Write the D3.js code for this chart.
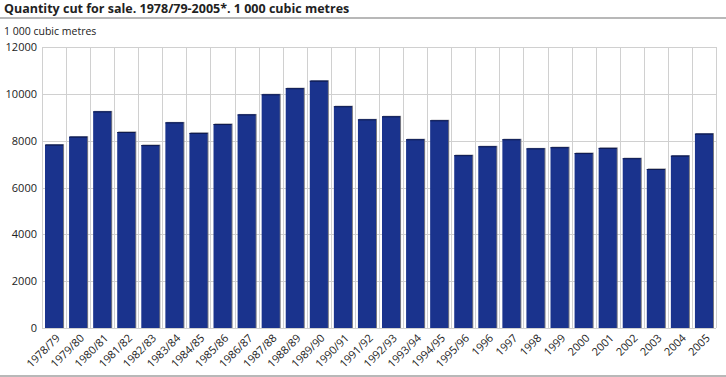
<!DOCTYPE html>
<html>
<head>
<meta charset="utf-8">
<title>Quantity cut for sale</title>
<style>
  body { margin: 0; background: #fff; }
  text { font-family: "Open Sans", "DejaVu Sans", sans-serif; fill: #222; }
</style>
</head>
<body>
<svg width="726" height="377"></svg>
<script src="https://d3js.org/d3.v7.min.js"></script>
<script>
var periods = ["1978/79", "1979/80", "1980/81", "1981/82", "1982/83", "1983/84", "1984/85",
  "1985/86", "1986/87", "1987/88", "1988/89", "1989/90", "1990/91", "1991/92", "1992/93",
  "1993/94", "1994/95", "1995/96", "1996", "1997", "1998", "1999", "2000", "2001", "2002",
  "2003", "2004", "2005"];
var volumes = [7830, 8170, 9250, 8370, 7810, 8780, 8330, 8710, 9120, 9980, 10240, 10560,
  9470, 8910, 9040, 8060, 8870, 7380, 7760, 8060, 7670, 7720, 7470, 7690, 7250, 6790, 7360, 8300];
var yTicks = [0, 2000, 4000, 6000, 8000, 10000, 12000];

var svg = d3.select("svg");
var plotL = 42, plotR = 716, plotT = 47, plotB = 328;

var x = d3.scaleBand().domain(periods).range([plotL, plotR]).paddingInner(0.25).paddingOuter(0.125);
var y = d3.scaleLinear().domain([0, 12000]).range([plotB, plotT]);

// title + rules
svg.append("text").attr("x", 4).attr("y", 13)
  .style("font-weight", "bold").style("font-size", "12.5px")
  .text("Quantity cut for sale. 1978/79-2005*. 1 000 cubic metres");
svg.append("line").attr("x1", 0).attr("x2", 726).attr("y1", 18).attr("y2", 18)
  .attr("stroke", "#a0a0a0").attr("stroke-width", 1.5);
svg.append("line").attr("x1", 0).attr("x2", 726).attr("y1", 376).attr("y2", 376)
  .attr("stroke", "#a0a0a0").attr("stroke-width", 1.5);
svg.append("text").attr("x", 4).attr("y", 35).style("font-size", "10.5px").text("1 000 cubic metres");

// grid
var step = x.step();
var edges = periods.map(function (p) { return x(p) - step * 0.125; });
edges.push(plotR);
svg.append("g").selectAll("line").data(edges).join("line")
  .attr("x1", d => Math.round(d) + 0.5).attr("x2", d => Math.round(d) + 0.5)
  .attr("y1", plotT).attr("y2", plotB)
  .attr("stroke", "#d0d0d0");
svg.append("g").selectAll("line").data(yTicks).join("line")
  .attr("x1", plotL).attr("x2", plotR)
  .attr("y1", d => Math.round(y(d)) + 0.5).attr("y2", d => Math.round(y(d)) + 0.5)
  .attr("stroke", "#d0d0d0");

// y labels
svg.append("g").selectAll("text").data(yTicks).join("text")
  .attr("x", 37).attr("y", d => y(d) + 4)
  .attr("text-anchor", "end").style("font-size", "11px")
  .text(d => d);

// bars with grey shadow
var bars = svg.append("g");
bars.selectAll("rect.shadow").data(volumes).join("rect").attr("class", "shadow")
  .attr("x", (d, i) => x(periods[i]) + 1).attr("y", d => y(d) - 0.5)
  .attr("width", x.bandwidth()).attr("height", d => plotB - y(d) + 0.5)
  .attr("fill", "#7a7a80");
bars.selectAll("rect.bar").data(volumes).join("rect").attr("class", "bar")
  .attr("x", (d, i) => x(periods[i])).attr("y", d => y(d))
  .attr("width", x.bandwidth()).attr("height", d => plotB - y(d))
  .attr("fill", "#1a338d");
bars.selectAll("line.cap").data(volumes).join("line").attr("class", "cap")
  .attr("x1", (d, i) => x(periods[i])).attr("x2", (d, i) => x(periods[i]) + x.bandwidth())
  .attr("y1", d => y(d) + 0.5).attr("y2", d => y(d) + 0.5)
  .attr("stroke", "#0d1a50");

// x labels
svg.append("g").selectAll("text").data(periods).join("text")
  .attr("transform", d => "translate(" + (x(d) + x.bandwidth() / 2 + 4) + "," + (plotB + 8) + ") rotate(-45)")
  .attr("text-anchor", "end").attr("dy", "0.35em")
  .style("font-size", "11px")
  .text(d => d);
</script>
</body>
</html>
